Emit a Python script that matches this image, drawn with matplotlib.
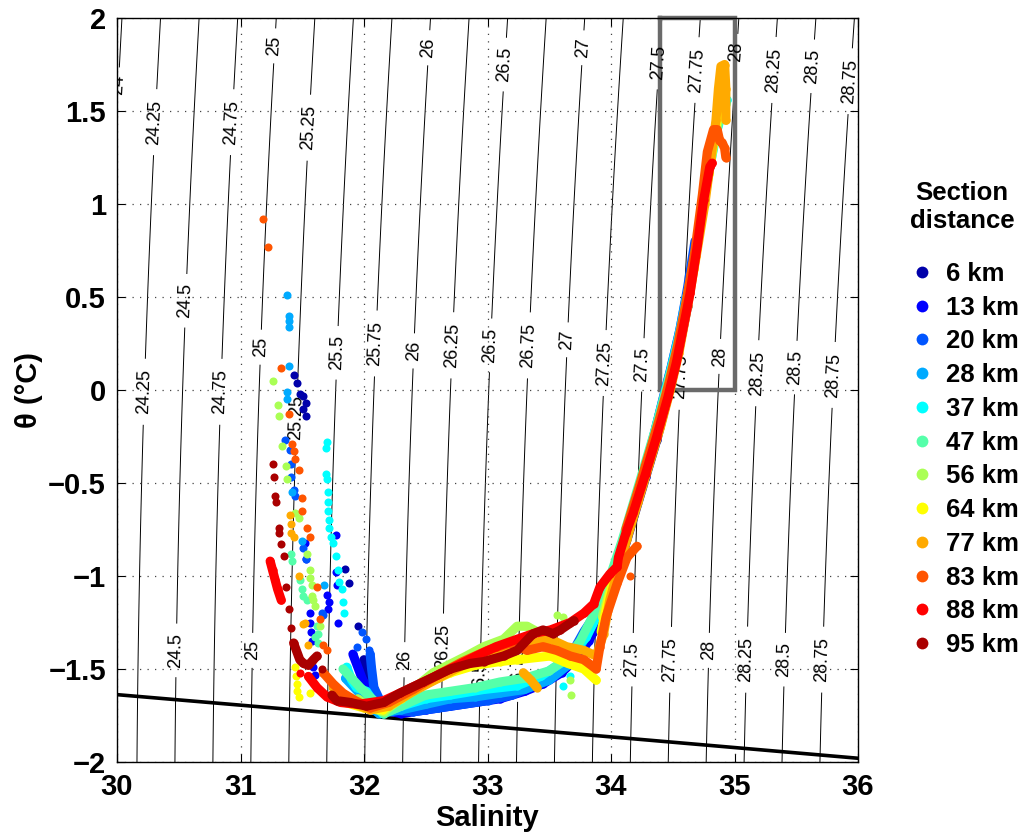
import numpy as np
import matplotlib
matplotlib.use('Agg')
import matplotlib.pyplot as plt
from matplotlib.lines import Line2D

plt.rcParams['font.family'] = ['Liberation Sans', 'DejaVu Sans']

N = np.nan

section_km = [6, 13, 20, 28, 37, 47, 56, 64, 77, 83, 88, 95]
section_colors = [(0, 0, 0.667), (0, 0, 1), (0, 0.333, 1), (0, 0.667, 1), (0, 1, 1),
                  (0.333, 1, 0.667), (0.667, 1, 0.333), (1, 1, 0), (1, 0.667, 0),
                  (1, 0.333, 0), (1, 0, 0), (0.667, 0, 0)]

# (Salinity, theta).
# D_* : isolated samples (dots only); L_* : dense profile traces, (N, N) breaks a trace
D_6 = [(31.43, 0.08), (31.46, 0.04), (31.48, -0.02), (31.51, -0.03), (31.53, -0.07), (31.51, -0.10), (31.53, -0.14),
       (31.85, -0.96), (31.88, -1.04), (31.95, -1.27)]
L_6 = [(32.00, -1.45), (32.05, -1.58), (32.10, -1.70), (32.29, -1.73), (32.56, -1.71), (32.83, -1.68), (33.10, -1.65),
       (33.37, -1.59), (33.59, -1.51), (33.75, -1.41), (33.89, -1.27), (33.97, -1.13), (34.03, -1.01), (34.10, -0.87),
       (34.19, -0.67), (34.28, -0.47), (34.37, -0.27), (34.44, -0.09), (34.51, 0.10)]
D_13 = [(31.52, -0.82), (31.53, -0.91), (31.77, -0.78), (31.77, -0.98), (31.78, -1.05), (31.70, -1.10), (31.72, -1.14),
        (31.71, -1.18), (31.79, -1.25), (31.56, -1.20), (31.56, -1.25), (31.57, -1.30), (31.58, -1.35), (31.59, -1.49),
        (31.60, -1.53)]
L_13 = [(31.91, -1.42), (31.99, -1.56), (32.08, -1.67), (32.16, -1.72), (32.30, -1.74), (32.50, -1.72), (32.70, -1.70),
        (32.90, -1.68), (33.10, -1.66), (33.30, -1.62), (33.45, -1.58), (33.60, -1.52), (33.72, -1.44), (33.82, -1.35),
        (33.90, -1.24), (33.97, -1.12), (34.04, -0.98), (34.12, -0.80), (34.21, -0.60), (34.30, -0.40), (34.39, -0.20),
        (34.47, 0.00), (34.55, 0.22), (34.62, 0.45)]
D_20 = [(31.36, -0.27), (31.40, -0.32), (31.41, -0.40), (31.41, -0.47), (31.43, -0.54), (31.44, -0.57), (31.51, -0.85),
        (31.53, -0.91), (31.66, -1.20), (31.67, -1.21), (31.94, -1.38), (32.02, -1.34), (31.98, -1.30), (32.04, -1.40)]
L_20 = [(32.05, -1.42), (32.06, -1.49), (32.08, -1.60), (32.13, -1.67), (32.20, -1.72),
        (32.40, -1.73), (32.60, -1.71), (32.80, -1.69), (33.00, -1.67), (33.20, -1.64), (33.40, -1.58), (33.55, -1.51),
        (33.68, -1.42), (33.78, -1.30), (33.86, -1.22), (33.94, -1.11), (34.02, -0.99), (34.10, -0.83), (34.18, -0.64),
        (34.27, -0.44), (34.35, -0.24), (34.42, -0.05), (34.49, 0.13), (34.56, 0.33), (34.62, 0.55), (34.68, 0.80)]
D_28 = [(31.38, 0.51), (31.39, 0.40), (31.39, 0.37), (31.39, 0.34), (31.39, 0.13), (31.38, -0.01), (31.38, -0.05),
        (31.42, -0.55), (31.50, -0.81), (31.68, -1.05)]
L_28 = [(31.85, -1.55), (31.95, -1.62), (32.05, -1.70), (32.12, -1.74), (32.30, -1.72), (32.50, -1.69), (32.70, -1.66),
        (32.90, -1.65), (33.10, -1.63), (33.30, -1.61), (33.50, -1.56), (33.65, -1.48), (33.75, -1.38), (33.85, -1.26),
        (33.93, -1.13), (34.00, -1.00), (34.08, -0.85), (34.17, -0.66), (34.26, -0.46), (34.34, -0.26), (34.41, -0.08),
        (34.48, 0.10), (34.55, 0.30), (34.61, 0.50)]
D_37 = [(31.70, -0.28), (31.69, -0.31), (31.69, -0.45), (31.70, -0.48), (31.71, -0.55), (31.71, -0.60), (31.71, -0.65),
        (31.72, -0.70), (31.72, -0.74), (31.73, -0.79), (31.75, -0.82), (31.77, -0.89), (31.79, -0.97), (31.80, -1.03),
        (31.82, -1.07), (31.83, -1.14), (31.84, -1.20), (33.61, -1.59), (33.67, -1.54)]
L_37 = [(31.86, -1.49), (31.90, -1.56), (31.94, -1.60), (32.02, -1.62), (32.10, -1.70), (32.15, -1.74), (32.30, -1.70),
        (32.50, -1.66), (32.70, -1.64), (32.97, -1.61), (33.24, -1.59), (33.43, -1.54), (33.59, -1.47), (33.70, -1.40),
        (33.80, -1.33), (33.88, -1.22), (33.95, -1.10), (34.02, -0.97), (34.10, -0.80), (34.19, -0.60), (34.28, -0.40),
        (34.37, -0.20), (34.45, 0.00), (34.52, 0.20), (34.60, 0.42), (34.67, 0.68), (34.74, 0.95), (34.80, 1.20),
        (34.86, 1.40), (34.91, 1.52), (34.94, 1.56)]
D_47 = [(31.41, -0.88), (31.42, -0.92), (31.48, -1.02), (31.50, -1.07), (31.51, -1.11), (31.54, -1.13), (31.62, -1.27),
        (31.63, -1.31), (31.60, -1.33), (31.63, -1.36)]
L_47 = [(31.83, -1.50), (31.97, -1.60), (32.08, -1.67), (32.16, -1.74), (32.30, -1.70), (32.50, -1.64), (32.70, -1.62),
        (32.90, -1.60), (33.10, -1.57), (33.30, -1.55), (33.50, -1.51), (33.65, -1.44), (33.75, -1.35), (33.85, -1.22),
        (33.93, -1.10), (34.01, -0.97), (34.09, -0.81), (34.18, -0.61), (34.27, -0.41), (34.36, -0.21), (34.44, -0.01),
        (34.52, 0.19), (34.59, 0.41), (34.66, 0.66), (34.73, 0.93), (34.79, 1.18), (34.85, 1.38), (34.90, 1.50), (34.93, 1.54)]
D_56 = [(31.26, 0.05), (31.30, -0.08), (31.31, -0.14), (31.34, -0.30), (31.37, -0.41), (31.38, -0.48), (31.44, -0.66),
        (31.47, -0.69), (31.54, -0.88), (31.56, -0.97), (31.56, -1.01), (31.58, -1.05), (31.58, -1.11), (31.59, -1.13),
        (31.60, -1.16), (31.64, -1.27), (33.56, -1.21), (33.61, -1.22), (33.67, -1.56), (33.68, -1.64)]
L_56 = [(31.95, -1.66), (32.05, -1.71), (32.16, -1.73), (32.30, -1.66), (32.56, -1.52), (32.83, -1.43), (32.97, -1.38),
        (33.13, -1.34), (33.24, -1.27), (33.32, -1.27), (33.43, -1.31), (N, N),
        (33.93, -1.22), (34.00, -1.05), (34.08, -0.88), (34.17, -0.68), (34.26, -0.48), (34.35, -0.28), (34.43, -0.08),
        (34.51, 0.12), (34.58, 0.34), (34.65, 0.60), (34.72, 0.88), (34.78, 1.12), (34.84, 1.35), (34.88, 1.50)]
D_64 = [(31.44, -1.49), (31.45, -1.54), (31.46, -1.58), (31.46, -1.62), (31.47, -1.65), (31.56, -1.63)]
L_64 = [(31.85, -1.68), (32.00, -1.71), (32.15, -1.72), (32.30, -1.66), (32.50, -1.58), (32.70, -1.52), (32.90, -1.48),
        (33.10, -1.46), (33.24, -1.45), (33.51, -1.43), (33.65, -1.47), (33.78, -1.50), (33.88, -1.56), (N, N),
        (33.92, -1.30), (33.97, -1.15), (34.03, -1.00), (34.11, -0.83), (34.20, -0.62), (34.29, -0.42), (34.38, -0.22),
        (34.46, -0.02), (34.53, 0.18), (34.60, 0.40), (34.67, 0.65), (34.73, 0.92), (34.79, 1.16), (34.84, 1.38),
        (34.89, 1.56), (34.92, 1.60)]
D_77 = [(31.40, -0.67), (31.41, -0.72), (31.41, -0.77), (31.43, -0.79), (31.47, -1.00), (31.52, -1.25), (31.51, -1.26),
        (31.55, -1.37)]
L_77 = [(31.75, -1.60), (31.90, -1.68), (32.05, -1.72), (32.20, -1.70), (32.40, -1.62), (32.60, -1.55), (32.80, -1.48),
        (32.97, -1.43), (33.13, -1.42), (33.24, -1.38), (33.37, -1.36), (33.51, -1.34), (33.64, -1.38), (33.78, -1.40),
        (33.88, -1.43), (33.94, -1.31), (33.99, -1.13), (34.05, -0.98), (34.13, -0.80), (34.22, -0.60), (34.31, -0.40),
        (34.40, -0.20), (34.48, 0.00), (34.55, 0.20), (34.62, 0.45), (34.69, 0.72), (34.76, 1.00), (34.81, 1.25),
        (34.85, 1.45), (34.87, 1.62), (34.89, 1.74), (34.92, 1.75), (34.93, 1.62), (34.93, 1.45), (N, N),
        (33.29, -1.52), (33.35, -1.56), (33.40, -1.60)]
D_83 = [(31.18, 0.92), (31.22, 0.77), (31.33, 0.12), (31.39, -0.13), (31.42, -0.29), (31.43, -0.33), (31.44, -0.37),
        (31.47, -0.43), (31.50, -0.58), (31.50, -0.65), (31.54, -0.74), (31.56, -0.79), (31.62, -1.06), (31.64, -1.23),
        (31.67, -1.37), (31.70, -1.40), (34.15, -1.00)]
L_83 = [(31.67, -1.52), (31.75, -1.58), (31.83, -1.63), (31.93, -1.67), (32.05, -1.71), (32.20, -1.68), (32.40, -1.61),
        (32.60, -1.53), (32.80, -1.46), (33.00, -1.40), (33.18, -1.36), (33.32, -1.40), (33.45, -1.38), (33.56, -1.40),
        (33.67, -1.43), (33.78, -1.45), (33.88, -1.50), (33.91, -1.38), (33.96, -1.22), (34.05, -1.04), (34.13, -0.90),
        (34.21, -0.84), (N, N),
        (34.12, -0.75), (34.21, -0.56), (34.30, -0.36), (34.39, -0.16), (34.47, 0.04), (34.54, 0.24), (34.61, 0.48),
        (34.68, 0.75), (34.74, 1.05), (34.78, 1.28), (34.83, 1.40), (34.86, 1.40), (34.88, 1.34), (34.90, 1.33),
        (34.92, 1.30), (34.93, 1.25)]
D_88 = [(31.48, -1.52)]
L_88 = [(31.24, -0.92), (31.26, -0.97), (31.28, -1.02), (31.30, -1.07), (31.33, -1.13), (N, N),
        (31.55, -1.54), (31.62, -1.60), (31.70, -1.65), (31.81, -1.68), (31.95, -1.69), (32.16, -1.67), (32.29, -1.63),
        (32.48, -1.57), (32.70, -1.50), (32.91, -1.43), (33.07, -1.38), (33.24, -1.34), (33.37, -1.31), (33.51, -1.29),
        (33.67, -1.25), (33.78, -1.20), (33.86, -1.15), (33.91, -1.06), (33.99, -0.99), (34.05, -0.95), (34.06, -0.90),
        (34.12, -0.77), (34.18, -0.66), (34.28, -0.45), (34.37, -0.25), (34.46, -0.04), (34.53, 0.15), (34.64, 0.52),
        (34.70, 0.78), (34.75, 1.02), (34.80, 1.20), (34.82, 1.22)]
D_95 = [(31.26, -0.40), (31.27, -0.47), (31.28, -0.57), (31.29, -0.60), (31.31, -0.74), (31.31, -0.77), (31.33, -0.83),
        (31.35, -0.89), (31.37, -1.06), (31.39, -1.18), (31.41, -1.28), (31.66, -1.50)]
L_95 = [(31.43, -1.36), (31.48, -1.45), (31.51, -1.47), (31.55, -1.48), (31.59, -1.45), (31.62, -1.43), (N, N),
        (31.74, -1.64), (31.78, -1.67), (31.89, -1.68), (32.02, -1.70), (32.16, -1.68), (32.29, -1.63), (32.48, -1.57),
        (32.70, -1.50), (32.86, -1.47), (32.97, -1.46), (33.13, -1.43), (33.24, -1.40), (33.37, -1.31), (33.45, -1.29),
        (33.53, -1.31), (33.59, -1.29), (33.70, -1.24)]
section_dots = [D_6, D_13, D_20, D_28, D_37, D_47, D_56, D_64, D_77, D_83, D_88, D_95]
section_traces = [L_6, L_13, L_20, L_28, L_37, L_47, L_56, L_64, L_77, L_83, L_88, L_95]

sigma_levels = np.arange(24.0, 28.76, 0.25)
box_S = [34.4, 35.0]
box_T = [0.0, 2.0]
x_ticks = [30, 31, 32, 33, 34, 35, 36]
y_ticks = [-2, -1.5, -1, -0.5, 0, 0.5, 1, 1.5, 2]


def sigma_theta(S, T):
    rw = (999.842594 + 6.793952e-2 * T - 9.095290e-3 * T**2 + 1.001685e-4 * T**3
          - 1.120083e-6 * T**4 + 6.536332e-9 * T**5)
    A = 8.24493e-1 - 4.0899e-3 * T + 7.6438e-5 * T**2 - 8.2467e-7 * T**3 + 5.3875e-9 * T**4
    B = -5.72466e-3 + 1.0227e-4 * T - 1.6546e-6 * T**2
    C = 4.8314e-4
    return rw + A * S + B * S**1.5 + C * S**2 - 1000.0


def freezing_point(S):
    return -0.0575 * S + 1.710523e-3 * S**1.5 - 2.154996e-4 * S**2


fig = plt.figure(figsize=(10.36, 8.36), dpi=100)
ax = fig.add_axes([117 / 1036, 74 / 836, 741 / 1036, 744 / 836])

Sg, Tg = np.meshgrid(np.linspace(29.5, 36.5, 300), np.linspace(-2.5, 2.5, 300))
cs = ax.contour(Sg, Tg, sigma_theta(Sg, Tg), levels=sigma_levels, colors='k', linewidths=0.7, zorder=1)
label_pos = [(30.02, 1.64), (30.31, 1.44), (30.93, 1.44), (31.28, 1.85), (31.56, 1.41), (32.52, 1.84),
             (33.13, 1.75), (33.77, 1.84), (34.38, 1.76), (34.70, 1.72), (35.03, 1.82), (35.33, 1.72),
             (35.64, 1.74), (35.94, 1.66),
             (30.24, -0.01), (30.55, 0.48), (30.85, -0.01), (31.17, 0.23), (31.47, -0.15), (31.78, 0.20),
             (32.10, 0.25), (32.41, 0.21), (32.72, 0.24), (33.02, 0.24), (33.33, 0.24), (33.64, 0.27),
             (33.95, 0.145), (34.26, 0.135), (34.57, 0.07), (34.90, 0.18), (35.19, 0.09), (35.51, 0.12),
             (35.83, 0.08),
             (30.49, -1.40), (31.10, -1.40), (32.32, -1.45), (32.64, -1.38), (32.95, -1.55), (33.3, -1.5),
             (34.17, -1.45), (34.46, -1.45), (34.80, -1.40), (35.11, -1.45), (35.41, -1.45), (35.73, -1.45)]
ax.clabel(cs, manual=label_pos, inline=True, inline_spacing=4, fontsize=13, fmt='%g')

Sf = np.linspace(30, 36, 50)
ax.plot(Sf, freezing_point(Sf), color='k', lw=2.6, zorder=2)

ax.plot([box_S[0], box_S[0], box_S[1], box_S[1], box_S[0]],
        [box_T[1], box_T[0], box_T[0], box_T[1], box_T[1]],
        color='#6a6a6a', lw=3.2, zorder=2.5, clip_on=False, solid_joinstyle='miter')

for col, D, L in zip(section_colors, section_dots, section_traces):
    tr = np.array(L, dtype=float)
    ax.plot(tr[:, 0], tr[:, 1], '-', color=col, lw=6.6, marker='o', ms=6.0, mec='none',
            solid_capstyle='round', solid_joinstyle='round', zorder=3)
    dt = np.array(D, dtype=float)
    ax.plot(dt[:, 0], dt[:, 1], linestyle='none', color=col, marker='o', ms=5.8, mec='none', zorder=3)

ax.set_xlim(30, 36)
ax.set_ylim(-2, 2)
ax.set_xticks(x_ticks)
ax.set_yticks(y_ticks)
ax.set_yticklabels(['\u22122', '\u22121.5', '\u22121', '\u22120.5', '0', '0.5', '1', '1.5', '2'])
ax.grid(True, color='#444444', linestyle=(0, (1, 5)), linewidth=0.9, zorder=0)
ax.tick_params(direction='in', top=True, right=True, length=6, width=0.8, labelsize=21, pad=8)
for lab in ax.get_xticklabels() + ax.get_yticklabels():
    lab.set_fontweight('bold')
for sp in ax.spines.values():
    sp.set_linewidth(1.0)
ax.set_xlabel('Salinity', fontsize=21, fontweight='bold', labelpad=2)
ax.set_ylabel('\u03b8 (\u00b0C)', fontsize=21, fontweight='bold', labelpad=4)

handles = [Line2D([], [], linestyle='none', marker='o', ms=8.5, mec='none', color=c) for c in section_colors]
labels = ['%d km' % k for k in section_km]
fig.text(962 / 1036, 1 - 207 / 836, 'Section\ndistance', ha='center', va='center',
         fontsize=18.5, fontweight='bold', linespacing=1.25)
fig.legend(handles, labels, loc='upper left', bbox_to_anchor=(900 / 1036, 1 - 249 / 836),
           frameon=False, handlelength=0.7, handletextpad=0.6, labelspacing=0.38, borderpad=0,
           prop={'size': 18.5, 'weight': 'bold'})

fig.savefig('out.png', dpi=100)
